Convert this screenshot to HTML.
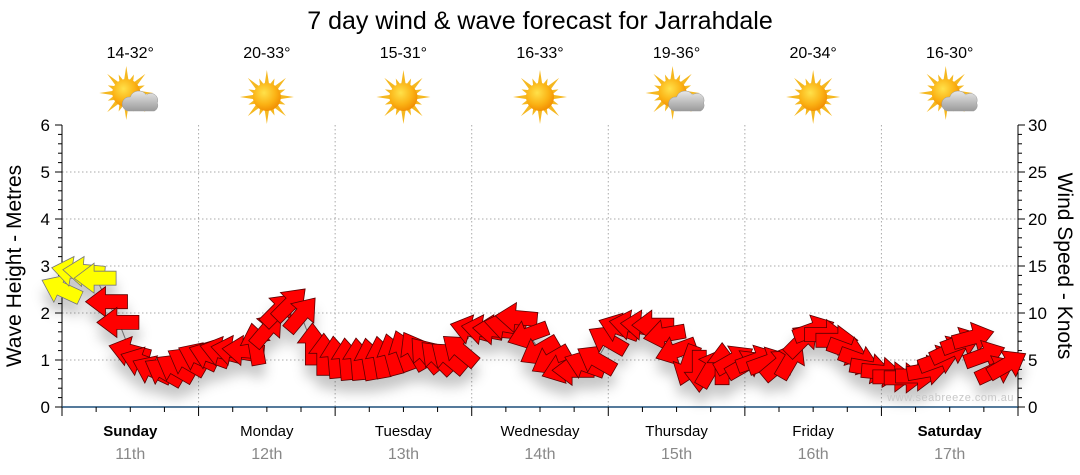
<!DOCTYPE html>
<html><head><meta charset="utf-8"><style>
body{margin:0;background:#fff;}
svg{display:block;font-family:"Liberation Sans",sans-serif;}
</style></head><body>
<svg id="chart" width="1080" height="475" viewBox="0 0 1080 475" xmlns="http://www.w3.org/2000/svg">
<defs>
<filter id="sh" x="-50%" y="-50%" width="200%" height="250%"><feDropShadow dx="0" dy="12" stdDeviation="6" flood-color="#000" flood-opacity="0.22"/></filter>
<radialGradient id="sunG" cx="0.4" cy="0.35" r="0.7"><stop offset="0" stop-color="#ffe14a"/><stop offset="0.6" stop-color="#fbb214"/><stop offset="1" stop-color="#f08a00"/></radialGradient>
<linearGradient id="cloudG" x1="0" y1="0" x2="0" y2="1"><stop offset="0" stop-color="#e8e8e8"/><stop offset="1" stop-color="#9a9a9a"/></linearGradient>
</defs>
<text x="540" y="29" font-size="25" text-anchor="middle" fill="#000">7 day wind &amp; wave forecast for Jarrahdale</text>
<g id="grid"></g>
<g id="axes"></g>
<g id="wx"></g>
<path id="trend" fill="none" stroke="#888" stroke-width="1"/>
<g id="arrows" filter="url(#sh)"></g>
<text x="1014" y="401" font-size="11" text-anchor="end" fill="#c8c8c8" letter-spacing="0.5">www.seabreeze.com.au</text>
<text transform="translate(21,266) rotate(-90)" font-size="21" text-anchor="middle">Wave Height - Metres</text>
<text transform="translate(1058,266) rotate(90)" font-size="21" text-anchor="middle">Wind Speed - Knots</text>
</svg>
<script>
const days=["Sunday","Monday","Tuesday","Wednesday","Thursday","Friday","Saturday"];
const dates=["11th","12th","13th","14th","15th","16th","17th"];
const temps=["14-32°","20-33°","15-31°","16-33°","19-36°","20-34°","16-30°"];
const cloudy=[1,0,0,0,1,0,1];
const waveTicks=[0,1,2,3,4,5,6];
const windTicks=[0,5,10,15,20,25,30];
const windSpeed=[12.5,14.4,14.4,13.7,11.2,9,5.9,4.8,3.9,3.7,4.1,4.8,
5.3,5.5,5.9,6,6,6.6,8.2,10.3,10.9,9.8,6.6,5.5,
5.2,5,5,5,5.2,5.5,5.9,5.9,5.5,5.2,5.2,6,
8.2,8.2,8.2,8.7,9.5,7.7,6,5,4.1,3.9,4.5,5,
7.1,8.4,8.7,8.7,8.7,7.7,6,4.5,3.9,4.1,4.5,5,
4.5,5,4.8,4.5,5,7.1,8.2,7.7,7.1,6,5,4.1,
3.7,3.2,3.1,3.3,3.9,5,6,6.9,7.4,5.5,3.9,4.5];
const windDir=[155,170,175,180,180,180,165,160,155,150,150,150,
155,160,165,170,175,100,50,45,45,50,90,90,
95,95,95,100,100,105,110,120,130,135,140,140,
165,170,175,170,175,200,210,210,200,180,160,150,
150,160,170,175,180,190,200,250,270,60,90,30,
30,20,20,40,60,45,20,0,0,340,340,350,
355,0,0,0,10,20,25,20,15,20,25,30];
const NS="http://www.w3.org/2000/svg";
const X0=62,X1=1018,Y0=407,Y1=125;
const dayW=(X1-X0)/7;
const xT=i=>X0+i*dayW/12;
const yW=m=>Y0-(Y0-Y1)*m/6;
const yK=k=>Y0-(Y0-Y1)*k/30;
function mk(t,a,p){const e=document.createElementNS(NS,t);for(const k in a)e.setAttribute(k,a[k]);(p||document.getElementById('chart')).appendChild(e);return e;}
const grid=document.getElementById('grid'),axes=document.getElementById('axes'),wx=document.getElementById('wx');
waveTicks.forEach(m=>{if(m>0&&m<6){const l=mk('line',{x1:X0,x2:X1,y1:yW(m),y2:yW(m),stroke:'#aaa','stroke-dasharray':'1.5,2.5'},grid);}});
for(let d=1;d<7;d++){const l=mk('line',{x1:X0+d*dayW,x2:X0+d*dayW,y1:Y1,y2:Y0,stroke:'#aaa','stroke-dasharray':'1.5,2.5'},grid);}
mk('line',{x1:X0,x2:X0,y1:Y1,y2:Y0+1,stroke:'#000'},axes);
mk('line',{x1:X1,x2:X1,y1:Y1,y2:Y0+1,stroke:'#000'},axes);
for(let i=0;i<=30;i++){const y=Y0-(Y0-Y1)*i/30;const maj=i%5==0;mk('line',{x1:X0,x2:X0-(maj?7:4),y1:y,y2:y,stroke:'#000'},axes);}
for(let i=0;i<=30;i++){const y=yK(i);const maj=i%5==0;mk('line',{x1:X1,x2:X1+(maj?7:4),y1:y,y2:y,stroke:'#000'},axes);}
waveTicks.forEach(m=>{const t=mk('text',{x:50,y:yW(m)+6,'font-size':17,'text-anchor':'end'},axes);t.textContent=m;});
windTicks.forEach(k=>{const t=mk('text',{x:1028,y:yK(k)+6,'font-size':17},axes);t.textContent=k;});
mk('line',{x1:X0,x2:X1,y1:Y0,y2:Y0,stroke:'#1d4f7a','stroke-width':1.5},axes);
for(let i=0;i<=28;i++){const x=X0+i*dayW/4;mk('line',{x1:x,x2:x,y1:Y0,y2:Y0+(i%4==0?9:5),stroke:'#000'},axes);}
days.forEach((d,i)=>{const cx=X0+(i+0.5)*dayW;const bold=(i==0||i==6);
const t=mk('text',{x:cx,y:436,'font-size':15,'text-anchor':'middle','font-weight':bold?'bold':'normal'},axes);t.textContent=d;
const t2=mk('text',{x:cx,y:459,'font-size':16,'text-anchor':'middle',fill:'#888'},axes);t2.textContent=dates[i];
const t3=mk('text',{x:cx,y:58,'font-size':16,'text-anchor':'middle'},wx);t3.textContent=temps[i];
const g=mk('g',{transform:`translate(${cx},97)`},wx);
const sx=cloudy[i]?-4:0,sy=cloudy[i]?-4:0;
for(let r=0;r<16;r++){const a=r*Math.PI/8,L=(r%2?20:27);const p=`M${sx+Math.cos(a)*L},${sy+Math.sin(a)*L}L${sx+Math.cos(a+0.2)*12},${sy+Math.sin(a+0.2)*12}L${sx+Math.cos(a-0.2)*12},${sy+Math.sin(a-0.2)*12}Z`;mk('path',{d:p,fill:'#f5b820'},g);}
mk('circle',{cx:sx,cy:sy,r:14,fill:'url(#sunG)'},g);
if(cloudy[i]){mk('path',{d:'M-2,14 a7,7 0 0 1 2,-14 a9,9 0 0 1 16,-2 a7,7 0 0 1 11,8 a6,6 0 0 1 -3,8 Z',fill:'url(#cloudG)',stroke:'#999','stroke-width':0.5},g);}
});
const tr=document.getElementById('trend');
tr.setAttribute('d',windSpeed.map((k,i)=>(i?'L':'M')+xT(i).toFixed(1)+','+yK(k).toFixed(1)).join(''));
const ar=document.getElementById('arrows');
const shape='M22,0 L2,-15 L2,-7 L-20,-7 L-20,7 L2,7 L2,15 Z';
windSpeed.forEach((k,i)=>{
 const p=mk('path',{d:shape,transform:`translate(${xT(i).toFixed(1)},${yK(k).toFixed(1)}) rotate(${-windDir[i]})`,fill:k>=12?'#ffff00':'#ff0000',stroke:k>=12?'#777':'#5a0000','stroke-width':0.8},ar);
 
 
});
</script>
</body></html>
